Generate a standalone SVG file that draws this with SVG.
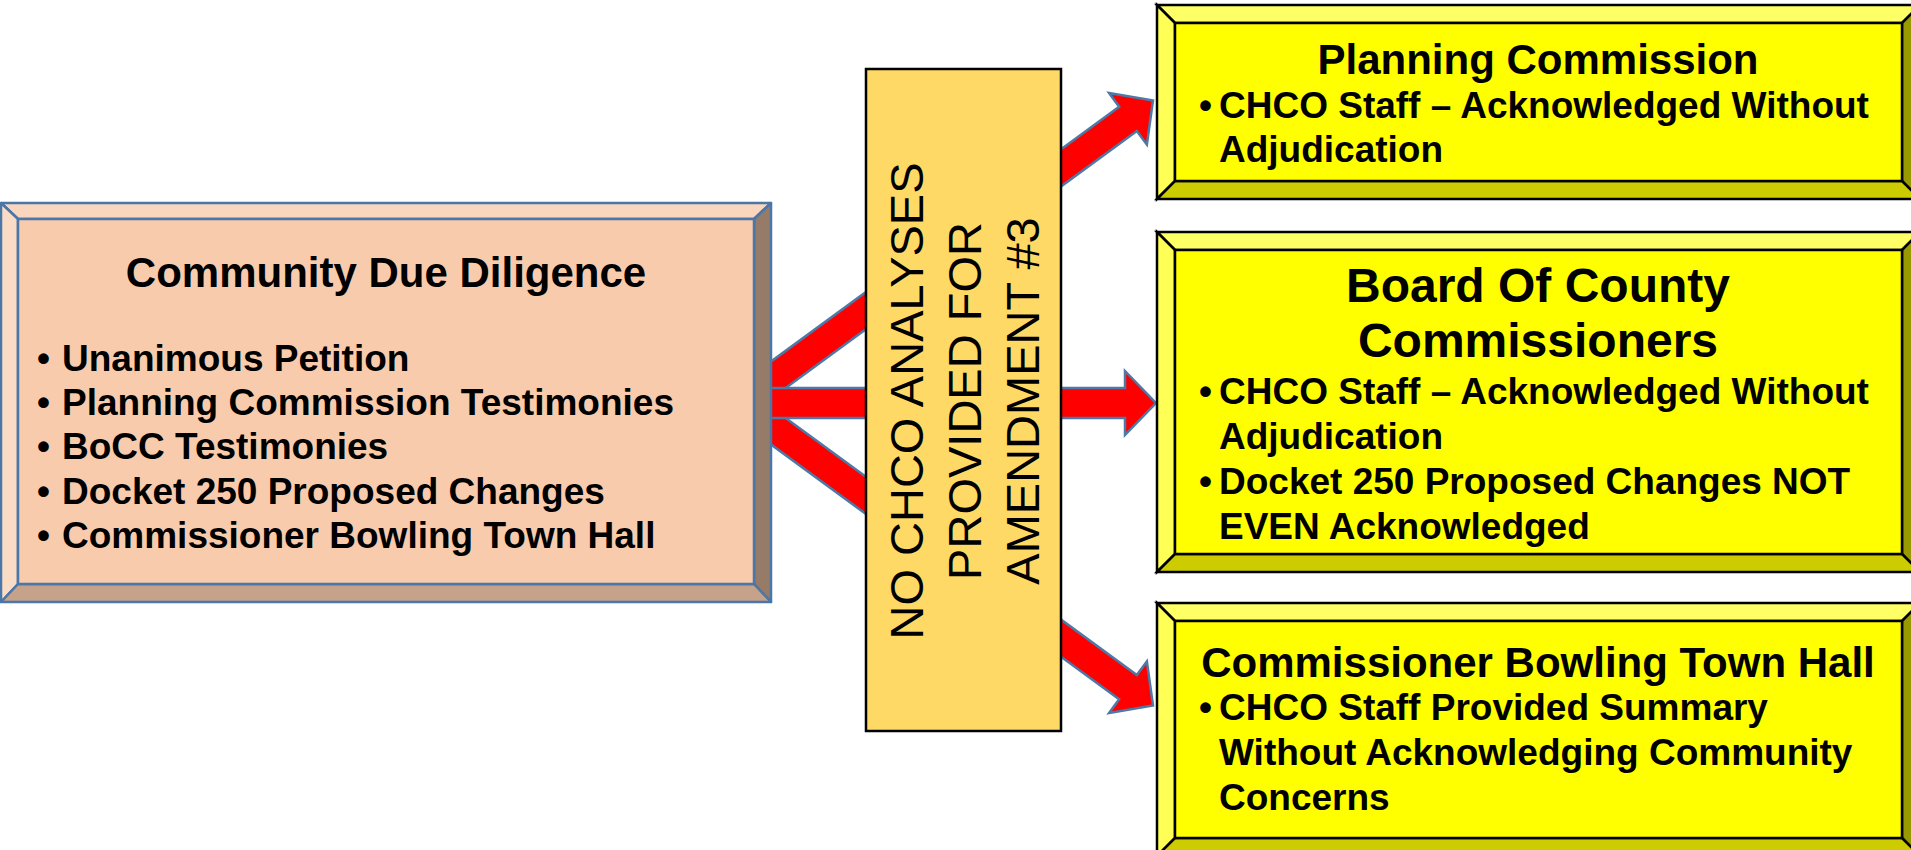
<svg xmlns="http://www.w3.org/2000/svg" width="1911" height="850" viewBox="0 0 1911 850">
<style>
.t{font-family:"Liberation Sans",Arial,sans-serif;fill:#000}
.b{font-weight:bold;font-size:37px}
.h{font-weight:bold;font-size:42px;text-anchor:middle}
.h2{font-weight:bold;font-size:48px;text-anchor:middle}
.v{font-size:47px;text-anchor:middle}
.pe{stroke:#4A76A8;stroke-width:2.5;stroke-linejoin:round}
.ye{stroke:#000;stroke-width:2.5;stroke-linejoin:miter}
.arr{fill:#FF0000;stroke:#4E79A7;stroke-width:2.5;stroke-linejoin:miter}
</style>
<defs>
<polygon id="ah" points="0,0 -31,-32 -31,-15 -505,-15 -505,15 -31,15 -31,32"/>
</defs>
<rect width="1911" height="850" fill="#fff"/>
<g id="connectors">
<g transform="translate(1153,100.5) rotate(-36.2)"><use href="#ah" class="arr"/></g>
<g transform="translate(1153,705.5) rotate(36.2)"><use href="#ah" class="arr"/></g>
<polygon class="arr" points="1156,403 1125,371 1125,388 745,388 745,418 1125,418 1125,435"/>
</g>
<g id="community">
<polygon class="pe" fill="#F9D6BD" points="1,203 771,203 754,219 18,219"/>
<polygon class="pe" fill="#FADCC6" points="1,203 18,219 18,584 1,602"/>
<polygon class="pe" fill="#967B69" points="771,203 771,602 754,584 754,219"/>
<polygon class="pe" fill="#C6A28A" points="1,602 18,584 754,584 771,602"/>
<rect class="pe" fill="#F8CBAD" x="18" y="219" width="736" height="365"/>
<text class="t h" x="386" y="287">Community Due Diligence</text>
<g class="t b">
<text x="37" y="371">•</text><text x="62" y="371">Unanimous Petition</text>
<text x="37" y="415">•</text><text x="62" y="415">Planning Commission Testimonies</text>
<text x="37" y="459">•</text><text x="62" y="459">BoCC Testimonies</text>
<text x="37" y="504">•</text><text x="62" y="504">Docket 250 Proposed Changes</text>
<text x="37" y="548">•</text><text x="62" y="548">Commissioner Bowling Town Hall</text>
</g>
</g>
<g id="no-analyses">
<rect x="866" y="69" width="195" height="662" fill="#FFD966" stroke="#000" stroke-width="2.5"/>
<g class="t v">
<text transform="translate(923,401) rotate(-90)">NO CHCO ANALYSES</text>
<text transform="translate(981,401) rotate(-90)">PROVIDED FOR</text>
<text transform="translate(1039,401) rotate(-90)">AMENDMENT #3</text>
</g>
</g>
<g id="planning">
<polygon class="ye" fill="#FFFF66" points="1157,5 1920,5 1902,23 1175,23"/>
<polygon class="ye" fill="#FFFF55" points="1157,5 1175,23 1175,181 1157,199"/>
<polygon class="ye" fill="#999900" points="1920,5 1920,199 1902,181 1902,23"/>
<polygon class="ye" fill="#CCCC00" points="1157,199 1175,181 1902,181 1920,199"/>
<rect class="ye" fill="#FFFF00" x="1175" y="23" width="727" height="158"/>
<text class="t h" x="1538" y="74">Planning Commission</text>
<g class="t b">
<text x="1199" y="118">•</text><text x="1219" y="118">CHCO Staff – Acknowledged Without</text>
<text x="1219" y="162">Adjudication</text>
</g>
</g>
<g id="bocc">
<polygon class="ye" fill="#FFFF66" points="1157,232 1920,232 1902,250 1175,250"/>
<polygon class="ye" fill="#FFFF55" points="1157,232 1175,250 1175,554 1157,572"/>
<polygon class="ye" fill="#999900" points="1920,232 1920,572 1902,554 1902,250"/>
<polygon class="ye" fill="#CCCC00" points="1157,572 1175,554 1902,554 1920,572"/>
<rect class="ye" fill="#FFFF00" x="1175" y="250" width="727" height="304"/>
<text class="t h2" x="1538" y="302">Board Of County</text>
<text class="t h2" x="1538" y="357">Commissioners</text>
<g class="t b">
<text x="1199" y="404">•</text><text x="1219" y="404">CHCO Staff – Acknowledged Without</text>
<text x="1219" y="449">Adjudication</text>
<text x="1199" y="494">•</text><text x="1219" y="494">Docket 250 Proposed Changes NOT</text>
<text x="1219" y="539">EVEN Acknowledged</text>
</g>
</g>
<g id="townhall">
<polygon class="ye" fill="#FFFF66" points="1157,603 1920,603 1902,621 1175,621"/>
<polygon class="ye" fill="#FFFF55" points="1157,603 1175,621 1175,838 1157,856"/>
<polygon class="ye" fill="#999900" points="1920,603 1920,856 1902,838 1902,621"/>
<polygon class="ye" fill="#CCCC00" points="1157,856 1175,838 1902,838 1920,856"/>
<rect class="ye" fill="#FFFF00" x="1175" y="621" width="727" height="217"/>
<text class="t h" x="1538" y="677">Commissioner Bowling Town Hall</text>
<g class="t b">
<text x="1199" y="720">•</text><text x="1219" y="720">CHCO Staff Provided Summary</text>
<text x="1219" y="765">Without Acknowledging Community</text>
<text x="1219" y="810">Concerns</text>
</g>
</g>
</svg>
